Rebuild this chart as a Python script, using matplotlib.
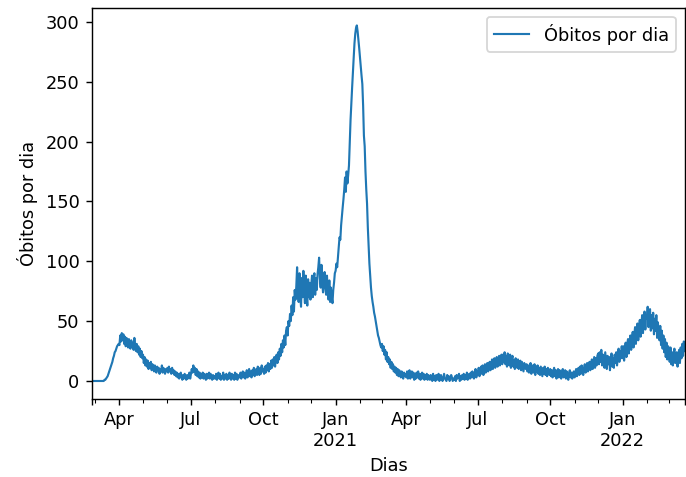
import matplotlib
matplotlib.use("Agg")
import matplotlib.pyplot as plt
import pandas as pd

# daily deaths (starts 2020-02-26)
feb_2020 = [0, 0, 0, 0]
mar_2020 = [0] * 12 + [1, 1, 2, 3, 4, 6, 8, 10, 12, 14, 16, 19, 21, 24, 25, 27, 29, 30, 31]
apr_2020 = [30, 38, 33, 40, 34, 39, 31, 37, 29, 36, 33, 28, 35, 30, 27, 34, 29, 32, 26, 36,
            28, 25, 31, 24, 29, 22, 27, 20, 25, 19]
may_2020 = [22, 15, 20, 13, 18, 12, 17, 10, 15, 11, 16, 9, 14, 12, 8, 13, 10, 7, 12, 9,
            11, 6, 10, 8, 13, 7, 11, 9, 6, 10, 8]
jun_2020 = [11, 7, 12, 8, 10, 6, 11, 7, 9, 5, 8, 4, 7, 3, 6, 2, 5, 7, 3, 1,
            5, 2, 6, 3, 1, 5, 2, 4, 7, 2]
jul_2020 = [6, 10, 7, 13, 8, 11, 5, 10, 4, 8, 3, 7, 2, 6, 3, 7, 2, 6, 4, 1,
            6, 2, 5, 7, 2, 6, 3, 1, 5, 2, 4]
aug_2020 = [2, 6, 1, 5, 7, 2, 6, 1, 4, 2, 7, 1, 5, 2, 6, 1, 5, 2, 7, 3,
            1, 6, 2, 5, 1, 7, 2, 6, 1, 5, 3]
sep_2020 = [3, 7, 2, 6, 8, 3, 7, 2, 5, 9, 3, 7, 10, 4, 8, 3, 9, 5, 11, 4,
            8, 10, 5, 12, 7, 5, 11, 6, 13, 8]
oct_2020 = [10, 6, 12, 7, 13, 9, 15, 8, 14, 10, 17, 11, 18, 13, 20, 12, 19, 22, 15, 24,
            18, 27, 21, 31, 24, 34, 28, 38, 30, 42, 45]
nov_2020 = [38, 50, 46, 56, 50, 63, 55, 70, 58, 76, 68, 79, 95, 74, 66, 90, 72, 62, 86, 70,
            92, 75, 65, 88, 72, 63, 85, 70, 82, 68]
dec_2020 = [80, 88, 70, 85, 90, 72, 86, 76, 89, 95, 103, 86, 78, 97, 82, 74, 87, 91, 77, 72,
            88, 75, 68, 84, 66, 78, 70, 65, 76, 82, 90]
jan_2021 = [92, 98, 95, 104, 112, 120, 118, 130, 138, 145, 152, 160, 170, 158, 175, 165, 172, 180, 200, 218,
            232, 245, 258, 270, 282, 290, 295, 297, 292, 285, 278]
feb_2021 = [270, 262, 255, 248, 230, 205, 196, 175, 160, 148, 128, 112, 98, 88, 78, 71, 66, 62, 57, 54,
            50, 46, 42, 38, 36, 33, 30, 28]
mar_2021 = [31, 25, 29, 22, 26, 18, 24, 16, 20, 14, 18, 11, 16, 10, 14, 8, 12, 7, 11, 5,
            10, 4, 9, 6, 3, 8, 5, 2, 7, 4, 6]
apr_2021 = [3, 8, 2, 7, 9, 2, 6, 8, 3, 7, 1, 6, 2, 7, 3, 8, 2, 6, 1, 5,
            7, 2, 6, 1, 5, 2, 6, 1, 5, 2]
may_2021 = [1, 5, 2, 0, 6, 1, 4, 0, 5, 1, 3, 6, 0, 2, 5, 2, 0, 3, 6, 2,
            1, 0, 5, 2, 4, 0, 2, 5, 3, 0, 2]
jun_2021 = [1, 4, 0, 5, 2, 3, 6, 0, 4, 1, 5, 2, 6, 1, 5, 2, 7, 1, 5, 6,
            2, 7, 3, 8, 4, 2, 7, 10, 3, 8]
jul_2021 = [5, 11, 4, 9, 12, 6, 13, 5, 10, 14, 7, 12, 15, 8, 13, 16, 9, 14, 18, 10,
            15, 19, 11, 16, 20, 12, 17, 21, 13, 18, 22]
aug_2021 = [14, 22, 16, 24, 14, 21, 12, 23, 17, 13, 22, 11, 18, 21, 12, 17, 10, 19, 14, 11,
            18, 10, 15, 17, 9, 16, 12, 8, 15, 11, 10]
sep_2021 = [14, 8, 13, 7, 12, 15, 6, 13, 9, 7, 14, 5, 12, 8, 13, 6, 11, 5, 12, 8,
            4, 11, 6, 12, 5, 10, 4, 11, 7, 5]
oct_2021 = [10, 4, 9, 3, 8, 11, 4, 9, 2, 8, 10, 3, 9, 5, 2, 8, 10, 3, 5, 9,
            2, 8, 4, 1, 7, 9, 3, 7, 2, 5, 8]
nov_2021 = [3, 7, 10, 4, 8, 11, 5, 12, 6, 13, 8, 5, 11, 14, 7, 12, 15, 8, 13, 16,
            9, 14, 18, 10, 15, 20, 11, 19, 13, 21]
dec_2021 = [23, 14, 24, 16, 26, 13, 22, 18, 11, 24, 17, 10, 21, 14, 20, 9, 17, 23, 12, 19,
            11, 22, 15, 24, 13, 20, 27, 16, 25, 19, 29]
jan_2022 = [19, 29, 17, 27, 32, 20, 31, 35, 23, 33, 38, 26, 36, 41, 28, 39, 45, 31, 42, 48,
            34, 45, 51, 37, 48, 55, 40, 52, 58, 43, 55]
feb_2022 = [52, 62, 45, 58, 60, 42, 55, 44, 57, 39, 52, 42, 55, 36, 49, 40, 34, 46, 30, 42,
            27, 38, 24, 35, 20, 32, 18, 29]
mar_2022 = [26, 16, 28, 14, 24, 13, 22, 27, 15, 19, 24, 12, 21, 26, 15, 28, 19, 31, 21, 33, 25]

obitos = (feb_2020 + mar_2020 + apr_2020 + may_2020 + jun_2020 + jul_2020 + aug_2020
          + sep_2020 + oct_2020 + nov_2020 + dec_2020 + jan_2021 + feb_2021 + mar_2021
          + apr_2021 + may_2021 + jun_2021 + jul_2021 + aug_2021 + sep_2021 + oct_2021
          + nov_2021 + dec_2021 + jan_2022 + feb_2022 + mar_2022)
dias = pd.date_range("2020-02-26", periods=len(obitos), freq="D")

df = pd.DataFrame({"Óbitos por dia": obitos}, index=dias)

# reference looks like a default plot rendered at a higher dpi
dpi = 128
fig, ax = plt.subplots(figsize=(686 / dpi, 477 / dpi), dpi=dpi)
df.plot(ax=ax, linewidth=1.2)
ax.set_xlabel("Dias")
ax.set_ylabel("Óbitos por dia")
ax.legend(loc="upper right")
fig.subplots_adjust(left=0.134, right=0.998, bottom=0.164, top=0.984)
fig.savefig("out.png", dpi=dpi)
